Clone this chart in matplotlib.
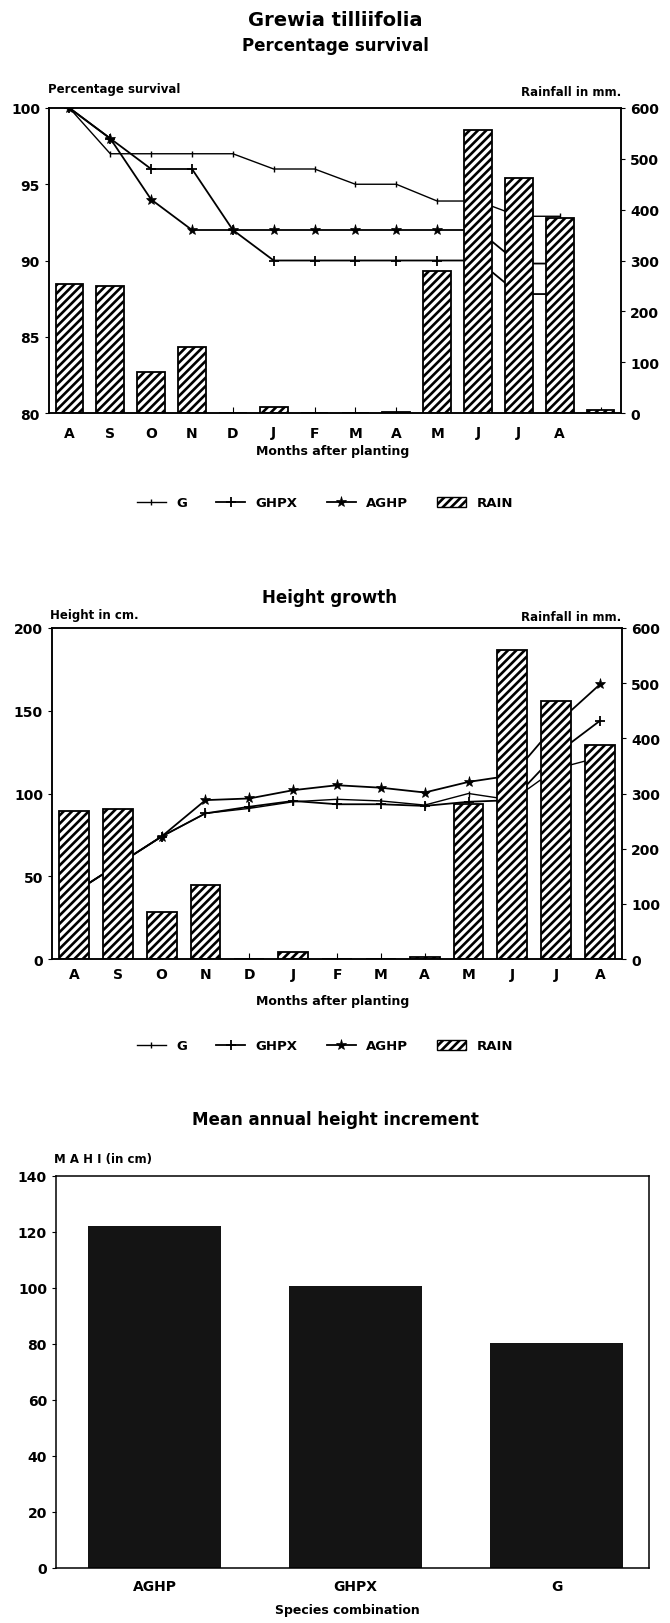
import numpy as np
import matplotlib
matplotlib.use('Agg')
import matplotlib.pyplot as plt
from matplotlib.lines import Line2D
from matplotlib.patches import Patch

plt.rcParams['font.family'] = ['DejaVu Sans']
plt.rcParams['font.weight'] = 'bold'
plt.rcParams['hatch.linewidth'] = 1.9

# --- data
months = ['A', 'S', 'O', 'N', 'D', 'J', 'F', 'M', 'A', 'M', 'J', 'J', 'A']

# percentage survival
surv_g = [100, 97, 97, 97, 97, 96, 96, 95, 95, 93.9, 93.9, 92.9, 92.9]
surv_ghpx = [100, 98, 96, 96, 92, 90, 90, 90, 90, 90, 90, 87.8, 87.8]
surv_aghp = [100, 98, 94, 92, 92, 92, 92, 92, 92, 92, 92, 89.8, 89.8]
rain_top = [254, 250, 80, 130, 0, 11, 0, 0, 2, 280, 556, 462, 384, 5]

# height growth (cm)
ht_g = [40, 57, 74, 88, 91, 95, 96.5, 95.5, 93, 100, 96, 115, 122]
ht_ghpx = [40, 57, 74, 88, 92, 95.5, 93.5, 93.5, 92.5, 95, 96, 124, 144]
ht_aghp = [40, 57, 74, 96, 97, 102, 105, 103.5, 100.6, 107, 111, 142, 166]
rain_mid = [269, 272, 85, 134, 0, 12, 0, 0, 3, 281, 560, 467, 388]

# mean annual height increment
species = ['AGHP', 'GHPX', 'G']
mahi = [122.3, 100.6, 80.4]

W, H = 670, 1624
fig = plt.figure(figsize=(W / 100, H / 100), dpi=100)


def box(l, t, r, b):
    return [l / W, 1 - b / H, (r - l) / W, (b - t) / H]


def ftext(x, y, s, **kw):
    fig.text(x / W, 1 - y / H, s, va='center', **kw)


series_style = {
    'G': dict(marker='|', ms=4, mew=1, lw=1.0),
    'GHPX': dict(marker='+', ms=7, mew=1.3, lw=1.3),
    'AGHP': dict(marker='*', ms=8, mew=0.5, lw=1.3),
}


def combo(rect, lines, rain, ylim, yticks, nslots, xpad):
    ax = fig.add_axes(rect)
    x = np.arange(len(months))
    for name, vals in lines:
        ax.plot(x, vals, color='black', **series_style[name])
    ax.set_ylim(*ylim)
    ax.set_yticks(yticks)
    ax.set_xlim(-0.5, nslots - 0.5)
    ax.set_xticks(np.arange(nslots))
    ax.set_xticklabels(months + [''] * (nslots - len(months)))
    ax.tick_params(axis='x', direction='in', length=4, labelsize=10, pad=xpad)
    ax.tick_params(axis='y', direction='out', length=3, labelsize=10)
    ax2 = ax.twinx()
    ax2.bar(np.arange(len(rain)), rain, width=0.68, facecolor='white',
            edgecolor='black', hatch='////', linewidth=1.3)
    ax2.set_ylim(0, 600)
    ax2.set_yticks(range(0, 601, 100))
    ax2.tick_params(axis='y', direction='out', length=3, labelsize=10)
    for a in (ax, ax2):
        for s in a.spines.values():
            s.set_linewidth(1.1)
    return ax


def legend_at(y):
    handles = [Line2D([], [], color='black', **series_style[n]) for n in ['G', 'GHPX', 'AGHP']]
    handles.append(Patch(facecolor='white', edgecolor='black', hatch='////'))
    fig.legend(handles, ['G', 'GHPX', 'AGHP', 'RAIN'], loc='center',
               bbox_to_anchor=(325 / W, 1 - y / H), ncol=4, frameon=False,
               fontsize=9.5, handlelength=2.2, columnspacing=2.2, handletextpad=0.8)


# --- top: percentage survival
ftext(335, 20, 'Grewia tilliifolia', ha='center', fontsize=14)
ftext(335, 46, 'Percentage survival', ha='center', fontsize=12)
combo(box(49, 109, 621, 414),
      [('G', surv_g), ('GHPX', surv_ghpx), ('AGHP', surv_aghp)],
      rain_top, (80, 100), range(80, 101, 5), 14, 9)
ftext(48, 90, 'Percentage survival', ha='left', fontsize=8.5)
ftext(621, 92, 'Rainfall in mm.', ha='right', fontsize=8.5)
ftext(333, 452, 'Months after planting', ha='center', fontsize=9)
legend_at(504)

# --- middle: height growth
ftext(330, 598, 'Height growth', ha='center', fontsize=12)
combo(box(52, 629, 622, 960),
      [('G', ht_g), ('GHPX', ht_ghpx), ('AGHP', ht_aghp)],
      rain_mid, (0, 200), range(0, 201, 50), 13, 6)
ftext(50, 615, 'Height in cm.', ha='left', fontsize=8.5)
ftext(621, 618, 'Rainfall in mm.', ha='right', fontsize=8.5)
ftext(333, 1002, 'Months after planting', ha='center', fontsize=9)
legend_at(1047)

# --- bottom: MAHI bars
ftext(335, 1120, 'Mean annual height increment', ha='center', fontsize=12)
ax3 = fig.add_axes(box(56, 1177, 649, 1569))
ax3.bar(np.arange(len(species)), mahi, width=0.66, color='#141414')
ax3.set_xlim(-0.49, 2.46)
ax3.set_ylim(0, 140)
ax3.set_yticks(range(0, 141, 20))
ax3.set_xticks(np.arange(len(species)))
ax3.set_xticklabels(species)
ax3.tick_params(axis='x', length=0, labelsize=10, pad=8)
ax3.tick_params(axis='y', direction='out', length=3, labelsize=10)
for s in ax3.spines.values():
    s.set_linewidth(1.1)
ftext(54, 1160, 'M A H I (in cm)', ha='left', fontsize=8.5)
ftext(347, 1611, 'Species combination', ha='center', fontsize=9)

fig.savefig('out.png', dpi=100)
